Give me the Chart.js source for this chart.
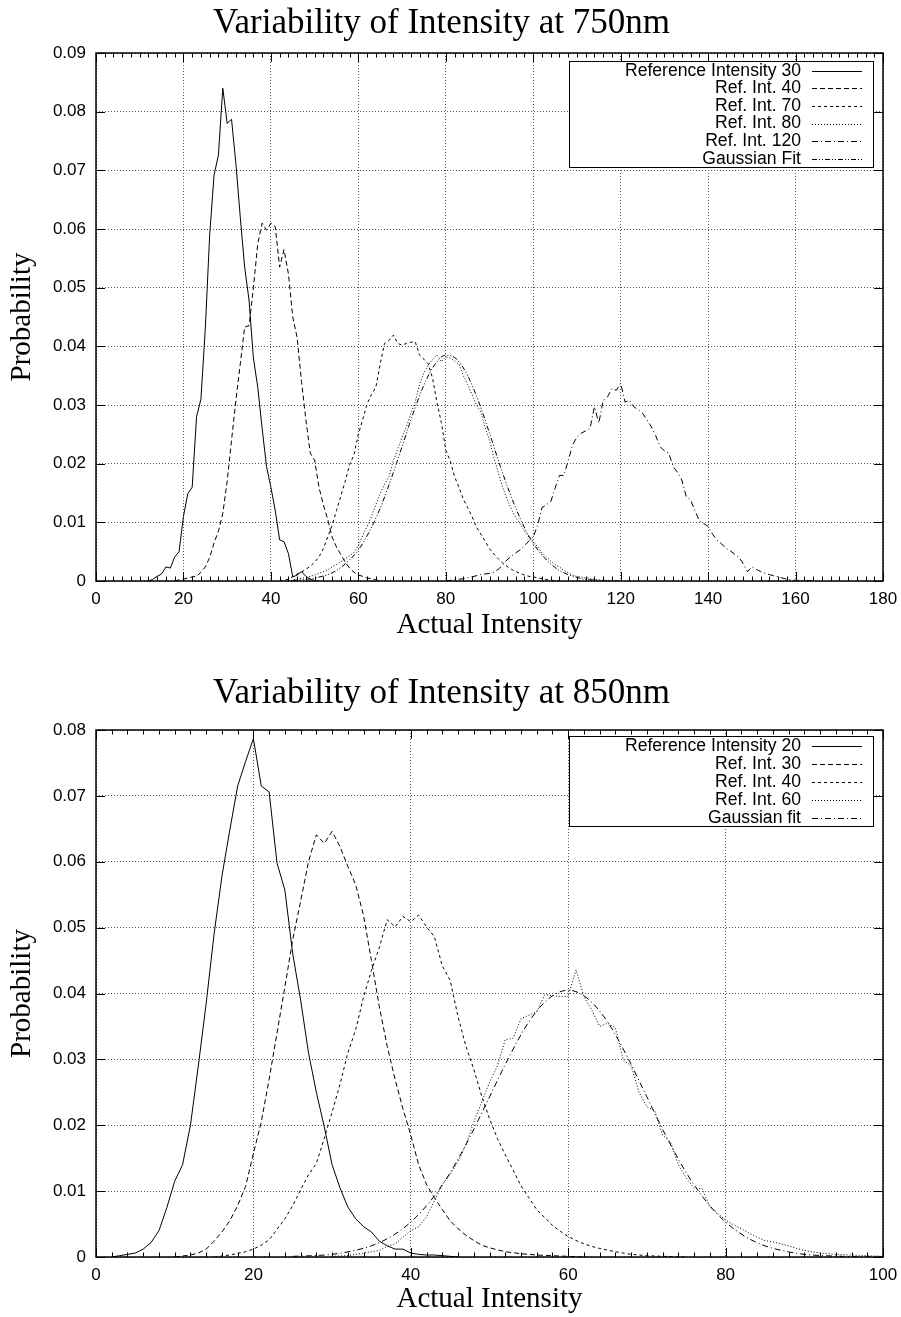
<!DOCTYPE html>
<html>
<head>
<meta charset="utf-8">
<script src="https://cdn.jsdelivr.net/npm/chart.js@4.4.1/dist/chart.umd.min.js"></script>
<style>
  html, body { margin: 0; padding: 0; background: #fff; overflow: hidden; }
  canvas { display: block; position: absolute; left: 0; }
  #top { top: 0; }
  #bottom { top: 653px; }
</style>
</head>
<body>
<canvas id="top" width="901" height="653"></canvas>
<canvas id="bottom" width="901" height="664"></canvas>
<script>
// ---- 750 nm histograms ----
const r30x = [12,13,14,15,16,17,18,19,20,21,22,23,24,25,26,27,28,29,30,31,32,33,34,35,36,37,38,39,40,41,42,43,44,45,46,47,48,49,50,51];
const r30y = [0,0.0003,0.0008,0.0012,0.0024,0.0022,0.0041,0.005,0.011,0.0149,0.016,0.028,0.031,0.043,0.059,0.0692,0.0726,0.084,0.078,0.0787,0.0711,0.062,0.0535,0.0479,0.038,0.033,0.026,0.0195,0.016,0.012,0.007,0.0067,0.0047,0.0007,0.001,0.0016,0.0008,0.0003,0.0001,0];

const r40x = [18,19,20,21,22,23,24,25,26,27,28,29,30,31,32,33,34,35,36,37,38,39,40,41,42,43,44,45,46,47,48,49,50,51,52,53,54,55,56,57,58,59,60,61,62,63,64,65];
const r40y = [0,0.0002,0.0003,0.0005,0.0007,0.0008,0.0015,0.0024,0.004,0.0065,0.0085,0.0115,0.017,0.024,0.0308,0.037,0.0433,0.0435,0.05,0.0575,0.061,0.0598,0.061,0.0604,0.0535,0.0565,0.0524,0.045,0.0415,0.034,0.0275,0.0218,0.0206,0.016,0.013,0.0105,0.0075,0.0058,0.0045,0.0032,0.0022,0.0015,0.001,0.0008,0.0005,0.0004,0.0002,0];

const r70x = [42,44,46,47,48,49,50,51,52,53,54,55,56,57,58,59,60,61,62,63,64,65,66,67,68,69,70,71,72,73,74,75,76,77,78,79,80,81,82,83,84,85,86,87,88,89,90,91,92,93,94,95,96,97,98,99,100,102,104,106];
const r70y = [0,0.0003,0.0012,0.0015,0.002,0.0025,0.0032,0.0041,0.0055,0.0075,0.0095,0.012,0.0145,0.017,0.0198,0.0215,0.025,0.0275,0.0302,0.0318,0.033,0.037,0.0405,0.041,0.0419,0.0405,0.0402,0.0405,0.0407,0.0408,0.0385,0.0378,0.037,0.0345,0.0303,0.027,0.0223,0.0205,0.0178,0.016,0.014,0.0125,0.011,0.0092,0.008,0.0068,0.0055,0.0046,0.0038,0.0031,0.0025,0.002,0.0016,0.0013,0.001,0.0008,0.0007,0.0004,0.0001,0];

const r80x = [44,46,48,50,52,53,54,55,56,57,58,59,60,61,62,63,64,65,66,67,68,69,70,71,72,73,74,75,76,77,78,79,80,81,82,83,84,85,86,87,88,89,90,91,92,93,94,95,96,97,98,99,100,101,102,103,104,105,106,107,108,109,110,112,114,116,118];
const r80y = [0,0.0003,0.0006,0.001,0.0016,0.0019,0.0024,0.0028,0.0033,0.0038,0.0043,0.0049,0.006,0.0078,0.0093,0.011,0.013,0.0149,0.0165,0.0178,0.0205,0.0225,0.0245,0.0263,0.0285,0.0305,0.0335,0.0355,0.0368,0.0378,0.0385,0.0374,0.0382,0.038,0.0375,0.037,0.035,0.0335,0.0318,0.03,0.0288,0.0262,0.024,0.021,0.0185,0.016,0.014,0.0122,0.0108,0.0098,0.0085,0.0075,0.0068,0.0058,0.0048,0.0041,0.0034,0.0028,0.0024,0.0018,0.0014,0.001,0.0008,0.0005,0.0003,0.0001,0];

const r120x = [80,82,84,86,88,90,91,92,93,94,95,96,97,98,99,100,101,102,103,104,105,106,107,108,109,110,111,112,113,114,115,116,117,118,119,120,121,122,123,124,125,126,127,128,129,130,131,132,133,134,135,136,137,138,139,140,141,142,143,144,145,146,147,148,149,150,151,152,153,154,155,156,158,160,162,165];
const r120y = [0,0.0002,0.0004,0.0007,0.0011,0.0013,0.0015,0.002,0.0027,0.0036,0.0042,0.0048,0.0053,0.006,0.0068,0.0075,0.0095,0.0125,0.013,0.0135,0.0158,0.018,0.018,0.0205,0.0232,0.0245,0.0252,0.0256,0.026,0.0297,0.0269,0.0308,0.0314,0.0328,0.0325,0.0337,0.0305,0.0308,0.0297,0.0292,0.0286,0.0275,0.0263,0.0248,0.0229,0.0222,0.0218,0.0195,0.0185,0.0172,0.0144,0.0138,0.012,0.0102,0.0098,0.0093,0.008,0.007,0.0064,0.0056,0.0052,0.0046,0.0041,0.003,0.0016,0.0024,0.002,0.0016,0.0013,0.0011,0.0009,0.0007,0.0003,0.0001,0.0001,0];

const fitAx = [45,50,55,60,62.5,65,67.5,70,72.5,75,77.5,80,82.5,85,87.5,90,92.5,95,97.5,100,105,110,115,120];
const fitAy = [0.0001,0.0005,0.0018,0.0053,0.0084,0.0124,0.0174,0.0229,0.0285,0.0334,0.0369,0.0385,0.0378,0.035,0.0306,0.0252,0.0195,0.0143,0.0099,0.0064,0.0023,0.0006,0.0001,0];

// ---- 850 nm histograms ----
const b20x = [2,3,4,5,6,7,8,9,10,11,12,13,14,15,16,17,18,19,20,21,22,23,24,25,26,27,28,29,30,31,32,33,34,35,36,37,38,39,40,41,42,43,44,46];
const b20y = [0,0.0002,0.0004,0.0006,0.0012,0.0022,0.004,0.0075,0.0115,0.014,0.02,0.029,0.0385,0.049,0.0578,0.0648,0.0715,0.0752,0.0787,0.0715,0.0706,0.0598,0.0557,0.046,0.039,0.031,0.025,0.0198,0.014,0.0105,0.0076,0.0058,0.0046,0.0038,0.0024,0.0017,0.0012,0.0012,0.0006,0.0004,0.0003,0.0003,0.0002,0];

const b30x = [10,12,13,14,15,16,17,18,19,20,21,22,23,24,25,26,27,28,29,30,31,32,33,34,35,36,37,38,39,40,41,42,43,44,45,46,47,48,49,50,52,54,56,58,60,62];
const b30y = [0,0.0003,0.0006,0.0012,0.0024,0.0038,0.0055,0.0078,0.0107,0.0157,0.0205,0.027,0.034,0.041,0.0482,0.054,0.06,0.0641,0.0628,0.0646,0.0623,0.0593,0.0565,0.0518,0.045,0.038,0.032,0.027,0.0225,0.0185,0.014,0.011,0.009,0.0072,0.0055,0.0043,0.0033,0.0025,0.0018,0.0014,0.0008,0.0005,0.0003,0.0002,0.0001,0];

const b40x = [15,17,19,20,21,22,23,24,25,26,27,28,29,30,31,32,33,34,35,36,37,38,39,40,41,42,43,44,45,46,47,48,49,50,51,52,53,54,55,56,57,58,59,60,61,62,63,64,66,68,70,72,75];
const b40y = [0,0.0003,0.0008,0.0012,0.0018,0.0026,0.0042,0.0058,0.0078,0.0102,0.0125,0.0142,0.018,0.022,0.0262,0.031,0.0345,0.0395,0.0435,0.047,0.0512,0.0501,0.0517,0.0509,0.0519,0.0501,0.0486,0.0442,0.042,0.0365,0.032,0.0285,0.0245,0.021,0.018,0.0155,0.0132,0.0108,0.009,0.0072,0.006,0.0048,0.0039,0.0031,0.0025,0.002,0.0016,0.0013,0.0008,0.0004,0.0002,0.0001,0];

const b60x = [30,32,34,36,37,38,39,40,41,42,43,44,45,46,47,48,49,50,51,52,53,54,55,56,57,58,59,60,61,62,63,64,65,66,67,68,69,70,71,72,73,74,75,76,77,78,79,80,81,82,83,84,85,86,87,88,89,90,91,92,93,94,96,98,100];
const b60y = [0.0001,0.0002,0.0006,0.001,0.0016,0.002,0.003,0.004,0.0046,0.0061,0.0085,0.011,0.0125,0.0145,0.017,0.0205,0.0235,0.0265,0.029,0.033,0.0332,0.0362,0.0367,0.0372,0.0398,0.0397,0.0395,0.0396,0.0436,0.0395,0.0375,0.035,0.0355,0.0348,0.0299,0.029,0.025,0.0228,0.0222,0.0185,0.0175,0.014,0.012,0.0104,0.0104,0.0076,0.0066,0.0056,0.0049,0.0043,0.0036,0.003,0.0025,0.0023,0.002,0.0017,0.0013,0.001,0.0008,0.0006,0.0005,0.0004,0.0003,0.0002,0.0001];

const fitBx = [25,27.5,30,32.5,35,37.5,40,42.5,45,47.5,50,52.5,55,57.5,60,62.5,65,67.5,70,72.5,75,77.5,80,82.5,85,87.5,90,92.5,95,97.5,100];
const fitBy = [0.0001,0.0002,0.0004,0.0009,0.0017,0.0031,0.0053,0.0085,0.0128,0.0182,0.0243,0.0304,0.0357,0.0392,0.0405,0.0392,0.0357,0.0304,0.0243,0.0182,0.0128,0.0085,0.0053,0.0031,0.0017,0.0009,0.0004,0.0002,0.0001,0,0];

// gnuplot line types
const SOLID = [], DASH = [5, 3], SHORT = [3, 3], DOT = [1, 2], DASHDOT = [6, 3, 1, 3], DASHDOTDOT = [5, 2, 1, 2, 1, 2];

const SANS = '"Liberation Sans", Arial, Helvetica, sans-serif';
const SERIF = '"Liberation Serif", "Times New Roman", serif';

Chart.defaults.font.family = SANS;
Chart.defaults.color = '#000';

function series(label, xs, ys, dash, smooth) {
  return {
    label: label,
    data: xs.map((x, i) => ({ x: x, y: ys[i] })),
    borderColor: '#000',
    borderWidth: 1,
    borderDash: dash,
    pointRadius: 0,
    fill: false,
    tension: 0,
    cubicInterpolationMode: smooth ? 'monotone' : 'default'
  };
}

// inward tick marks, frame and the boxed key, gnuplot style
const gnuFrame = {
  id: 'gnuFrame',
  afterDatasetsDraw(chart, args, opts) {
    const ctx = chart.ctx, a = chart.chartArea;
    const xs = chart.scales.x, ys = chart.scales.y;
    const step = xs.options.ticks.stepSize;
    ctx.save();
    ctx.setLineDash([]);
    ctx.strokeStyle = '#000';
    ctx.lineWidth = 1;
    ctx.beginPath();
    for (let v = xs.min; v <= xs.max + 1e-9; v += opts.minorX) {
      const major = Math.abs(v / step - Math.round(v / step)) < 1e-6;
      const len = major ? 9 : 4.5;
      const p = Math.round(xs.getPixelForValue(v)) + 0.5;
      ctx.moveTo(p, a.bottom); ctx.lineTo(p, a.bottom - len);
      ctx.moveTo(p, a.top); ctx.lineTo(p, a.top + len);
    }
    ys.ticks.forEach(t => {
      const p = Math.round(ys.getPixelForValue(t.value)) + 0.5;
      ctx.moveTo(a.left, p); ctx.lineTo(a.left + 9, p);
      ctx.moveTo(a.right, p); ctx.lineTo(a.right - 9, p);
    });
    ctx.stroke();

    // key
    const sets = chart.data.datasets;
    const row = opts.row;
    const bx = Math.round(a.right - 314), by = Math.round(a.top + opts.keyTop);
    const bw = 304, bh = Math.round(sets.length * row);
    ctx.fillStyle = '#fff';
    ctx.fillRect(bx, by, bw, bh);
    ctx.strokeRect(bx + 0.5, by + 0.5, bw, bh);
    ctx.fillStyle = '#000';
    ctx.font = '17.6px ' + SANS;
    ctx.textAlign = 'right';
    ctx.textBaseline = 'middle';
    sets.forEach((ds, i) => {
      const cy = by + row * (i + 0.5) + 1;
      ctx.fillText(ds.label, a.right - 82, cy);
      ctx.save();
      ctx.setLineDash(ds.borderDash || []);
      ctx.beginPath();
      ctx.moveTo(a.right - 71, Math.round(cy) + 0.5);
      ctx.lineTo(a.right - 21, Math.round(cy) + 0.5);
      ctx.stroke();
      ctx.restore();
    });

    // border
    ctx.lineWidth = 1.5;
    ctx.strokeRect(a.left, a.top, a.right - a.left, a.bottom - a.top);
    ctx.restore();
  }
};

function makeChart(id, L) {
  return new Chart(document.getElementById(id), {
    type: 'line',
    data: { datasets: L.datasets },
    plugins: [gnuFrame],
    options: {
      responsive: false,
      animation: false,
      events: [],
      layout: { padding: { left: 0, right: 18, top: 0, bottom: 0 } },
      plugins: {
        legend: { display: false },
        tooltip: { enabled: false },
        title: {
          display: true,
          text: L.title,
          color: '#000',
          font: { family: SERIF, size: 35, weight: 'normal' },
          padding: { top: L.titleTop, bottom: L.titleBottom }
        },
        gnuFrame: { minorX: 2, row: L.row, keyTop: L.keyTop }
      },
      scales: {
        x: {
          type: 'linear',
          min: 0,
          max: L.xMax,
          ticks: { stepSize: 20, padding: 8, maxRotation: 0, font: { size: 17 } },
          grid: { color: '#555', lineWidth: 1, drawTicks: false },
          border: { display: false, dash: [1, 2] },
          title: {
            display: true,
            text: 'Actual Intensity',
            font: { family: SERIF, size: 29 },
            padding: { top: 0, bottom: L.xTitlePad }
          },
          afterFit: s => {
            s.height = L.xHeight;
            s.paddingLeft = 0;
            s.paddingRight = 0;
          }
        },
        y: {
          min: 0,
          max: L.yMax,
          ticks: {
            stepSize: 0.01,
            padding: 10,
            font: { size: 17 },
            callback: v => v === 0 ? '0' : v.toFixed(2)
          },
          grid: { color: '#555', lineWidth: 1, drawTicks: false },
          border: { display: false, dash: [1, 2] },
          title: {
            display: true,
            text: 'Probability',
            font: { family: SERIF, size: 29 },
            padding: { top: 4.6, bottom: 0 }
          },
          afterFit: s => { s.width = 96; }
        }
      }
    }
  });
}

makeChart('top', {
  title: 'Variability of Intensity at 750nm',
  titleTop: 3, titleBottom: 8,
  xMax: 180, yMax: 0.09,
  xHeight: 72, xTitlePad: 10.6,
  row: 17.6, keyTop: 8,
  datasets: [
    series('Reference Intensity 30', r30x, r30y, SOLID),
    series('Ref. Int. 40', r40x, r40y, DASH),
    series('Ref. Int. 70', r70x, r70y, SHORT),
    series('Ref. Int. 80', r80x, r80y, DOT),
    series('Ref. Int. 120', r120x, r120y, DASHDOT),
    series('Gaussian Fit', fitAx, fitAy, DASHDOTDOT, true)
  ]
});

makeChart('bottom', {
  title: 'Variability of Intensity at 850nm',
  titleTop: 20, titleBottom: 15,
  xMax: 100, yMax: 0.08,
  xHeight: 60, xTitlePad: 0,
  row: 18, keyTop: 6,
  datasets: [
    series('Reference Intensity 20', b20x, b20y, SOLID),
    series('Ref. Int. 30', b30x, b30y, DASH),
    series('Ref. Int. 40', b40x, b40y, SHORT),
    series('Ref. Int. 60', b60x, b60y, DOT),
    series('Gaussian fit', fitBx, fitBy, DASHDOT, true)
  ]
});
</script>
</body>
</html>
